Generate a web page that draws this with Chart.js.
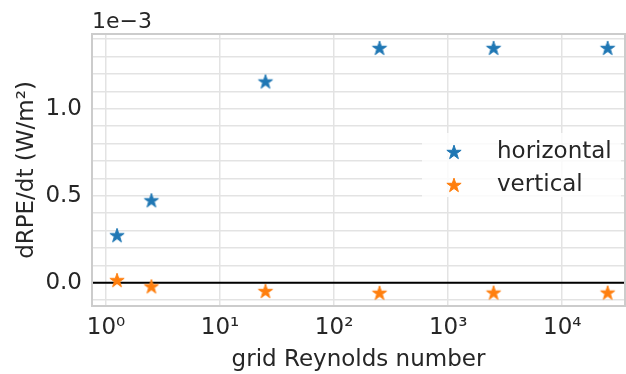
<!DOCTYPE html>
<html>
<head>
<meta charset="utf-8">
<script src="https://cdn.jsdelivr.net/npm/chart.js@4"></script>
<style>
  html, body { margin: 0; padding: 0; background: #fff; }
</style>
</head>
<body>
<canvas id="chartReynolds" width="626" height="374"></canvas>
<script>
// grid Reynolds number for each run
const reynolds = [1.25, 2.5, 25, 250, 2500, 25000]
// dRPE/dt in units of 1e-3 W/m^2
const horizontalRate = [0.273, 0.474, 1.157, 1.350, 1.350, 1.350]
const verticalRate = [0.015, -0.021, -0.048, -0.058, -0.057, -0.057]
const seriesNames = ['horizontal', 'vertical']
const xTickValues = [1, 10, 100, 1000, 10000]
const xTickLabels = ['10⁰', '10¹', '10²', '10³', '10⁴']

const textColor = '#262626'
const gridColor = '#e3e3e3'
const spineColor = '#cccccc'
const blue = '#1f77b4'
const orange = '#ff7f0e'

function makeStar(color) {
    const c = document.createElement('canvas')
    c.width = 20
    c.height = 20
    const ctx = c.getContext('2d')
    const R = 7.5
    const r = R * 0.382
    ctx.beginPath()
    for (let i = 0; i < 10; i++) {
        const rad = i % 2 === 0 ? R : r
        const a = -Math.PI / 2 + i * Math.PI / 5
        const px = 10 + rad * Math.cos(a)
        const py = 10.6 + rad * Math.sin(a)
        if (i === 0) ctx.moveTo(px, py)
        else ctx.lineTo(px, py)
    }
    ctx.closePath()
    ctx.fillStyle = color
    ctx.fill()
    ctx.strokeStyle = color
    ctx.lineWidth = 1
    ctx.lineJoin = 'round'
    ctx.stroke()
    return c
}

const starBlue = makeStar(blue)
const starOrange = makeStar(orange)

function toPoints(ys) {
    return reynolds.map((x, i) => ({ x: x, y: ys[i] }))
}

// spines, zero line, offset text and the legend
const extras = {
    id: 'extras',
    beforeDatasetsDraw(chart) {
        const ctx = chart.ctx
        const area = chart.chartArea
        const y0 = chart.scales.y.getPixelForValue(0)
        ctx.save()
        ctx.strokeStyle = '#000'
        ctx.lineWidth = 2
        ctx.beginPath()
        ctx.moveTo(area.left, y0)
        ctx.lineTo(area.right, y0)
        ctx.stroke()
        ctx.restore()
    },
    afterDatasetsDraw(chart) {
        const ctx = chart.ctx
        const area = chart.chartArea
        ctx.save()
        // legend box
        ctx.fillStyle = 'rgba(255,255,255,0.8)'
        ctx.fillRect(422, 133, 199, 64)
        const items = [[starBlue, seriesNames[0], 152], [starOrange, seriesNames[1], 185]]
        ctx.font = '23px "DejaVu Sans"'
        ctx.fillStyle = textColor
        ctx.textBaseline = 'middle'
        ctx.textAlign = 'left'
        items.forEach(it => {
            ctx.drawImage(it[0], 454 - 10, it[2] - 10)
            ctx.fillText(it[1], 497, it[2])
        })
        // spines
        ctx.strokeStyle = spineColor
        ctx.lineWidth = 2
        ctx.strokeRect(area.left, area.top, area.right - area.left, area.bottom - area.top)
        // offset text
        ctx.font = '22px "DejaVu Sans"'
        ctx.fillStyle = textColor
        ctx.textBaseline = 'alphabetic'
        ctx.fillText('1e−3', area.left, 28)
        ctx.restore()
    }
}

Chart.defaults.font.family = '"DejaVu Sans", sans-serif'
Chart.defaults.color = textColor

const configScatter = {
    type: 'scatter',
    data: {
        datasets: [
            {
                label: seriesNames[0],
                data: toPoints(horizontalRate),
                pointStyle: starBlue,
                backgroundColor: blue,
                borderColor: blue
            },
            {
                label: seriesNames[1],
                data: toPoints(verticalRate),
                pointStyle: starOrange,
                backgroundColor: orange,
                borderColor: orange
            }
        ]
    },
    options: {
        responsive: false,
        animation: false,
        layout: {
            autoPadding: false,
            padding: { top: 34, right: 1, left: 0, bottom: 0 }
        },
        plugins: {
            legend: { display: false },
            tooltip: { enabled: false }
        },
        scales: {
            x: {
                type: 'logarithmic',
                min: 0.754,
                max: 35500,
                afterBuildTicks: (scale) => {
                    scale.ticks = xTickValues.map(v => ({ value: v }))
                },
                afterFit: (scale) => {
                    scale.height = 68
                    scale.paddingLeft = 0
                    scale.paddingRight = 0
                },
                ticks: {
                    font: { size: 23 },
                    padding: 8,
                    maxRotation: 0,
                    autoSkip: false,
                    callback: (value) => {
                        const k = xTickValues.indexOf(value)
                        return k >= 0 ? xTickLabels[k] : ''
                    }
                },
                grid: { color: gridColor, lineWidth: 1.5, drawTicks: false },
                border: { display: false },
                title: {
                    display: true,
                    text: 'grid Reynolds number',
                    font: { size: 23 },
                    padding: { top: 2, bottom: 0 }
                }
            },
            y: {
                min: -0.134,
                max: 1.43,
                afterBuildTicks: (scale) => {
                    const t = []
                    for (let i = -1; i <= 14; i++) t.push({ value: i / 10 })
                    scale.ticks = t
                },
                afterFit: (scale) => {
                    scale.width = 92
                },
                ticks: {
                    font: { size: 23 },
                    padding: 10,
                    autoSkip: false,
                    callback: (value) => {
                        const v = Number(value)
                        return Math.abs(v * 2 - Math.round(v * 2)) < 1e-6 ? v.toFixed(1) : ''
                    }
                },
                grid: { color: gridColor, lineWidth: 1.5, drawTicks: false },
                border: { display: false },
                title: {
                    display: true,
                    text: 'dRPE/dt (W/m²)',
                    font: { size: 23 },
                    padding: { top: 13, bottom: 0 }
                }
            }
        }
    },
    plugins: [extras]
}

let chartReynolds = new Chart(
    document.getElementById('chartReynolds'),
    configScatter
)
</script>
</body>
</html>
